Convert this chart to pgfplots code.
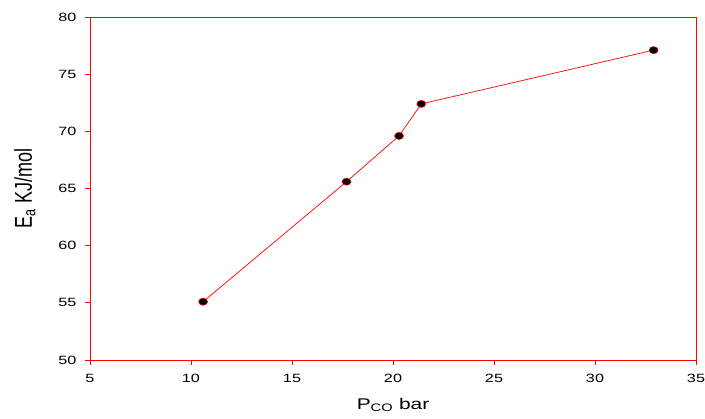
\documentclass[border=0pt]{standalone}
\usepackage{fontspec}
\setmainfont[FakeStretch=1.35]{Liberation Sans}
\newfontfamily\plainfont{Liberation Sans}
\usepackage{graphicx}
\usepackage{pgfplots}
\pgfplotsset{compat=1.18}
\begin{document}
\begin{tikzpicture}
\begin{axis}[
  scale only axis,
  width=606pt, height=343pt,
  xmin=5, xmax=35, ymin=50, ymax=80,
  xtick={5,10,...,35}, ytick={50,55,...,80},
  axis line style={red, line width=0.9pt},
  tick style={red, line width=0.9pt},
  tick align=outside,
  major tick length=5pt,
  xtick pos=bottom, ytick pos=left,
  /pgf/number format/assume math mode=true,
  tick label style={font=\fontsize{12}{14}\selectfont},
  yticklabel style={xshift=-5pt},
  xticklabel style={yshift=-6pt},
  xlabel={P\textsubscript{CO} bar},
  xlabel style={font=\fontsize{15.5}{18}\selectfont, at={(rel axis cs:0.5,0)}, anchor=center, yshift=-45pt},
  ylabel={\scalebox{1}[1.35]{\plainfont\fontsize{18}{20}\selectfont E\textsubscript{a} KJ/mol}},
  ylabel style={at={(rel axis cs:0,0.5)}, anchor=center, yshift=65pt},
]
\addplot[red, line width=0.7pt, mark=*, mark size=3.6pt,
  mark options={fill=black, draw=red, line width=0.5pt, xscale=1.25, yscale=1.0}]
  coordinates {(10.6,55.1) (17.7,65.6) (20.3,69.6) (21.4,72.4) (32.9,77.1)};
\coordinate (bl) at (rel axis cs:0,0);
\coordinate (tr) at (rel axis cs:1,1);
\end{axis}
\pgfresetboundingbox
\path ([shift={(-90pt,-59pt)}]bl) rectangle ([shift={(9pt,17pt)}]tr);
\end{tikzpicture}
\end{document}
